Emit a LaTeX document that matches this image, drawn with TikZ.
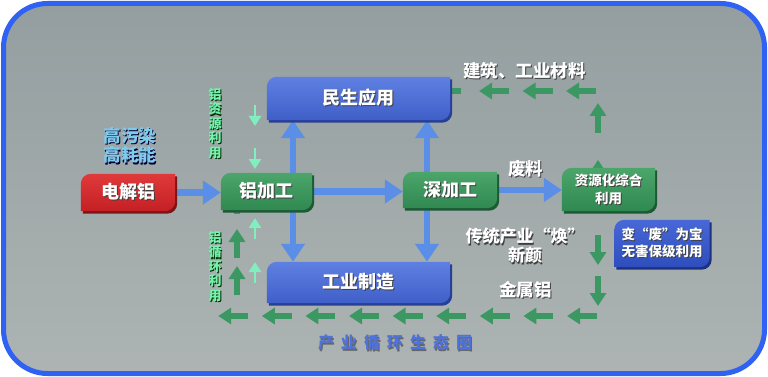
\documentclass[tikz,border=0pt]{standalone}
\usepackage{fontspec}
\setmainfont{Noto Sans CJK SC}
\usetikzlibrary{arrows.meta}

\definecolor{bgtop}{HTML}{949EA0}
\definecolor{bgbot}{HTML}{ADB4B3}
\definecolor{frameblue}{HTML}{2F62F2}
\definecolor{feedblue}{HTML}{5B8EE6}
\definecolor{loopgreen}{HTML}{3B9862}
\definecolor{mintgreen}{HTML}{80EEBE}
\definecolor{minttext}{HTML}{74F2AE}
\definecolor{skytext}{HTML}{80CAEC}
\definecolor{ringblue}{HTML}{4E72DC}
\definecolor{redA}{HTML}{E0393A}\definecolor{redB}{HTML}{C42024}\definecolor{redC}{HTML}{7E1416}
\definecolor{grnA}{HTML}{4CA56B}\definecolor{grnB}{HTML}{2F8950}\definecolor{grnC}{HTML}{1B5A33}
\definecolor{bluA}{HTML}{5F80E2}\definecolor{bluB}{HTML}{3F5FC8}\definecolor{bluC}{HTML}{283F96}
\definecolor{navA}{HTML}{4868D8}\definecolor{navB}{HTML}{2F4EBE}\definecolor{navC}{HTML}{1E3280}

\pgfdeclarelayer{back}\pgfdeclarelayer{lines}\pgfdeclarelayer{boxes}
\pgfsetlayers{back,lines,boxes,main}

% text with a dark drop shadow
\newcommand\shd[2][black!75]{\leavevmode\rlap{\kern1.1pt\raisebox{-1.1pt}{\color{#1}#2}}#2}
\newcommand\vshd[1]{\shd[black!55!green!40!black]{#1}}
% block outline: round top left and bottom right corners
\newcommand\tabpath[1]{(#1.south west) -- ([shift={(0,10)}]#1.north west) arc[start angle=180,end angle=90,radius=10pt] -- (#1.north east) -- ([shift={(0,-10)}]#1.south east) arc[start angle=0,end angle=-90,radius=10pt] -- cycle}
\newcommand\tabbox[4]{%
  \begin{pgfonlayer}{boxes}
    \fill[#4, transform canvas={xshift=2pt,yshift=-2.5pt}] \tabpath{#1};
    \shade[top color=#2, bottom color=#3] \tabpath{#1};
  \end{pgfonlayer}}

\begin{document}
\begin{tikzpicture}[x=1pt,y=-1pt,
  tab/.style={inner sep=0pt, text=white, align=center, font=\fontsize{18}{20}\selectfont\bfseries},
  smallbox/.style={font=\fontsize{13.5}{18}\selectfont\bfseries},
  note/.style={text=white, align=center, font=\fontsize{17.5}{19.5}\selectfont\bfseries},
  vert/.style={text=minttext, align=center, font=\fontsize{13}{14.4}\selectfont\bfseries},
  feed/.style={line width=6.5pt, feedblue, -{Triangle[length=18pt,width=23pt]}},
  chunk/.style={line width=6pt, loopgreen, -{Triangle[length=13pt,width=16pt]}},
  mintarrow/.style={line width=2.6pt, mintgreen, -{Triangle[length=10pt,width=12pt]}}]
  \useasboundingbox (0,0) rectangle (768,377);
  \begin{pgfonlayer}{back}
    \fill[white] (0,0) rectangle (768,377);
    \draw[line width=5pt, frameblue, top color=bgtop, bottom color=bgbot, rounded corners=44pt] (3.5,3.5) rectangle (764.5,373.5);
  \end{pgfonlayer}

  % blocks
  \node[tab, minimum width=94pt, minimum height=37pt] (elec) at (128,192.5) {\shd{电解铝}};
  \node[tab, minimum width=91pt, minimum height=37pt] (alu) at (266.5,191.5) {\shd{铝加工}};
  \node[tab, minimum width=94pt, minimum height=36pt] (deep) at (450,190) {\shd{深加工}};
  \node[tab, smallbox, minimum width=93pt, minimum height=43pt] (res) at (608.5,189.5) {\shd{资源化综合}\\\shd{利用}};
  \node[tab, minimum width=183pt, minimum height=43pt] (civil) at (358.5,98.5) {\shd{民生应用}};
  \node[tab, minimum width=183pt, minimum height=41pt] (indus) at (358.5,282.5) {\shd{工业制造}};
  \node[tab, font=\fontsize{13.5}{16.5}\selectfont\bfseries, minimum width=95pt, minimum height=47pt] (treasure) at (662,243.5) {\shd{变“废”为宝}\\\shd{无害保级利用}};
  \tabbox{elec}{redA}{redB}{redC}
  \tabbox{alu}{grnA}{grnB}{grnC}
  \tabbox{deep}{grnA}{grnB}{grnC}
  \tabbox{res}{grnA}{grnB}{grnC}
  \tabbox{civil}{bluA}{bluB}{bluC}
  \tabbox{indus}{bluA}{bluB}{bluC}
  \tabbox{treasure}{navA}{navB}{navC}

  % labels
  \node[note, text=skytext] (dirty) at (130,146) {\shd[black!80!blue]{高污染}\\\shd[black!80!blue]{高耗能}};
  \node[note] (build) at (524.5,71.5) {\shd{建筑、工业材料}};
  \node[note] (waste) at (525.5,169.5) {\shd{废料}};
  \node[note, font=\fontsize{17}{19}\selectfont\bfseries] (renew) at (525,246.5) {\shd{传统产业“焕”}\\\shd{新颜}};
  \node[note] (metal) at (525.5,290.5) {\shd{金属铝}};
  \node[vert] (supply) at (215,124) {\vshd{铝}\\\vshd{资}\\\vshd{源}\\\vshd{利}\\\vshd{用}};
  \node[vert] (recycle) at (215,267) {\vshd{铝}\\\vshd{循}\\\vshd{环}\\\vshd{利}\\\vshd{用}};
  \node[font=\fontsize{16}{18}\selectfont\bfseries, text=ringblue] (ring) at (395,343.5)
    {\shd[black!60]{产\hspace{7pt}业\hspace{7pt}循\hspace{7pt}环\hspace{7pt}生\hspace{7pt}态\hspace{7pt}圈}};

  \begin{pgfonlayer}{lines}
    % main flow
    \draw[feed] (elec.east) -- (elec.east -| alu.west);
    \draw[feed] (alu.east) -- (alu.east -| deep.west);
    \draw[feed] (deep.east) -- (deep.east -| res.west);
    \coordinate (aluup) at ([xshift=26.5pt]alu.center);
    \coordinate (deepup) at ([xshift=-23pt]deep.center);
    \draw[feed] (aluup) -- (aluup |- civil.south);
    \draw[feed] (aluup) -- (aluup |- indus.north);
    \draw[feed] (deepup) -- (deepup |- civil.south);
    \draw[feed] (deepup) -- (deepup |- indus.north);
    % recycling ring
    \coordinate (ringtop) at (598,91);
    \foreach \x in {596,552.5,509} \draw[chunk] (\x,91) -- ++(-30,0);
    \draw[line width=6pt, loopgreen] (civil.east |- ringtop) -- ++(11,0);
    \draw[chunk] (598,133) -- ++(0,-30);
    \draw[chunk] ([xshift=-10.5pt]res.center) -- ([xshift=-10.5pt,yshift=8pt]res.north);
    \foreach \y in {235,276} \draw[chunk] (598,\y) -- ++(0,30);
    \foreach \k in {0,...,8} \draw[chunk] ({597-43.6*\k},316) -- ++(-30,0);
    \foreach \y in {295,258} \draw[chunk] (237,\y) -- ++(0,-29);
    \draw[line width=6pt, loopgreen] (237,214) -- ++(0,-6);
    \foreach \y in {105,148} \draw[mintarrow] (255,\y) -- ++(0,21);
    \foreach \y in {239,283} \draw[mintarrow] (255,\y) -- ++(0,-21);
  \end{pgfonlayer}
\end{tikzpicture}
\end{document}
